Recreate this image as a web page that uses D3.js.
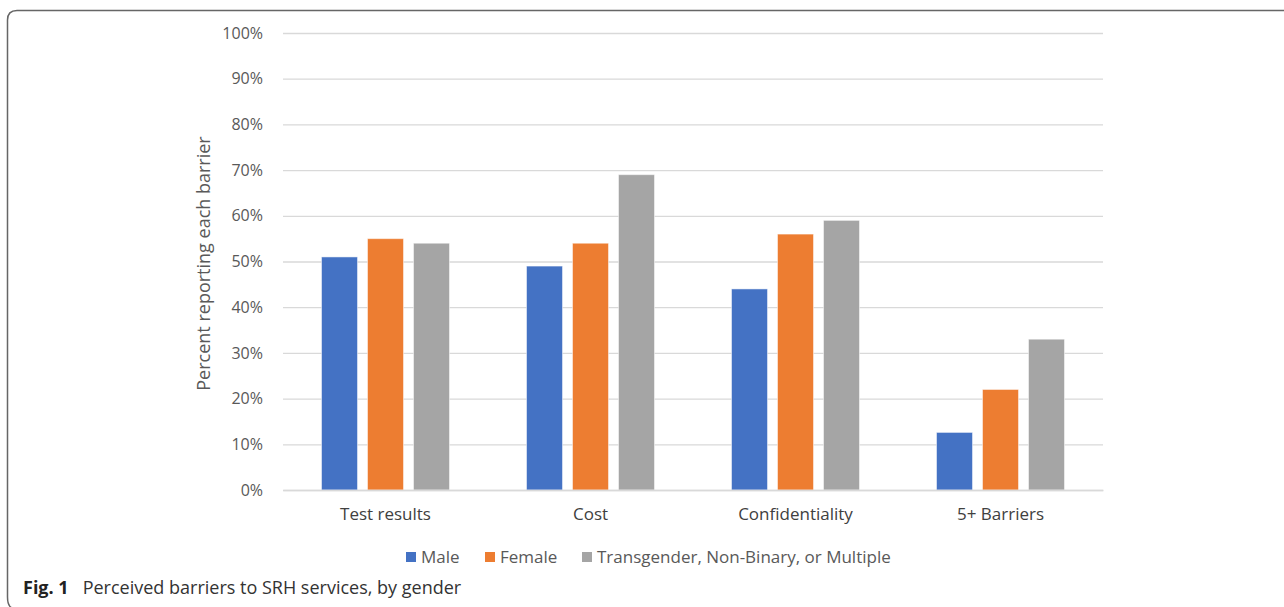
<!DOCTYPE html>
<html>
<head>
<meta charset="utf-8">
<script src="https://cdn.jsdelivr.net/npm/d3@7"></script>
<style>
  html, body { margin: 0; padding: 0; background: #fff; }
  svg { display: block; }
</style>
</head>
<body>
<svg id="chart" width="1284" height="607"></svg>
<script>
// Perceived barriers to SRH services, by gender
const categories = ["Test results", "Cost", "Confidentiality", "5+ Barriers"];
const seriesNames = ["Male", "Female", "Transgender, Non-Binary, or Multiple"];
const maleValues = [51, 49, 44, 12.6];
const femaleValues = [55, 54, 56, 22];
const otherValues = [54, 69, 59, 33];
const seriesColors = ["#4472c4", "#ed7d31", "#a5a5a5"];
const yTicks = [0, 10, 20, 30, 40, 50, 60, 70, 80, 90, 100];

const seriesValues = [maleValues, femaleValues, otherValues];

const svg = d3.select("#chart");
const font = "'Open Sans', 'Noto Sans', sans-serif";

// Figure frame with rounded left corners
svg.append("path")
  .attr("d", "M1290,10.5 L17,10.5 Q7.5,10.5 7.5,20 L7.5,597 Q7.5,606 12,608")
  .attr("fill", "none")
  .attr("stroke", "#666")
  .attr("stroke-width", 1.5);

const plot = { left: 283, right: 1103, top: 33, bottom: 490 };

const x0 = d3.scaleBand()
  .domain(categories)
  .range([plot.left, plot.right])
  .paddingInner(0)
  .paddingOuter(0);

const x1 = d3.scaleBand()
  .domain(d3.range(seriesNames.length))
  .range([0, x0.bandwidth()])
  .paddingInner(0.217)
  .paddingOuter(0.837);

const y = d3.scaleLinear().domain([0, 100]).range([plot.bottom, plot.top]);

// Gridlines and tick labels
const yAxis = d3.axisLeft(y)
  .tickValues(yTicks)
  .tickSize(-(plot.right - plot.left))
  .tickPadding(20)
  .tickFormat(d => d + "%");

const gy = svg.append("g")
  .attr("transform", `translate(${plot.left},0)`)
  .call(yAxis);
gy.select(".domain").remove();
gy.selectAll(".tick line").attr("stroke", "#d9d9d9").attr("stroke-width", 1.3);
gy.selectAll(".tick text")
  .attr("fill", "#595959")
  .attr("font-family", font)
  .attr("font-size", 16);

// Axis title
svg.append("text")
  .attr("transform", `translate(210,${(plot.top + plot.bottom) / 2 + 2}) rotate(-90)`)
  .attr("text-anchor", "middle")
  .attr("fill", "#595959")
  .attr("font-family", font)
  .attr("font-size", 18)
  .text("Percent reporting each barrier");

// Bars
const groups = svg.append("g").selectAll("g")
  .data(categories)
  .join("g")
  .attr("transform", d => `translate(${x0(d)},0)`);

groups.selectAll("rect")
  .data((d, i) => seriesValues.map((vals, s) => ({ s, v: vals[i] })))
  .join("rect")
  .attr("x", d => x1(d.s))
  .attr("width", x1.bandwidth())
  .attr("y", d => y(d.v))
  .attr("height", d => y(0) - y(d.v))
  .attr("fill", d => seriesColors[d.s])
  .attr("stroke", "#ffffff")
  .attr("stroke-opacity", 0.5)
  .attr("stroke-width", 1);

// Category axis
const xAxis = d3.axisBottom(x0).tickSize(0).tickPadding(18);
const gx = svg.append("g")
  .attr("transform", `translate(0,${plot.bottom})`)
  .call(xAxis);
gx.select(".domain").attr("stroke", "#d9d9d9").attr("stroke-width", 1.3);
gx.selectAll(".tick text")
  .attr("fill", "#404040")
  .attr("font-family", font)
  .attr("font-size", 17);

// Legend
const legend = svg.append("g").attr("transform", "translate(406,557)");
const legendX = [0, 79, 176];
seriesNames.forEach((name, i) => {
  const g = legend.append("g").attr("transform", `translate(${legendX[i]},0)`);
  g.append("rect")
    .attr("x", 0).attr("y", -5)
    .attr("width", 10).attr("height", 10)
    .attr("fill", seriesColors[i]);
  g.append("text")
    .attr("x", 15).attr("y", 0)
    .attr("dy", "0.35em")
    .attr("fill", "#595959")
    .attr("font-family", font)
    .attr("font-size", 17)
    .text(name);
});

// Caption
const cap = svg.append("text")
  .attr("x", 23).attr("y", 594)
  .attr("fill", "#222")
  .attr("font-family", font)
  .attr("font-size", 18);
cap.append("tspan").attr("font-weight", "bold").text("Fig. 1");
cap.append("tspan").attr("dx", 14).attr("fill", "#333").text("Perceived barriers to SRH services, by gender");
</script>
</body>
</html>
